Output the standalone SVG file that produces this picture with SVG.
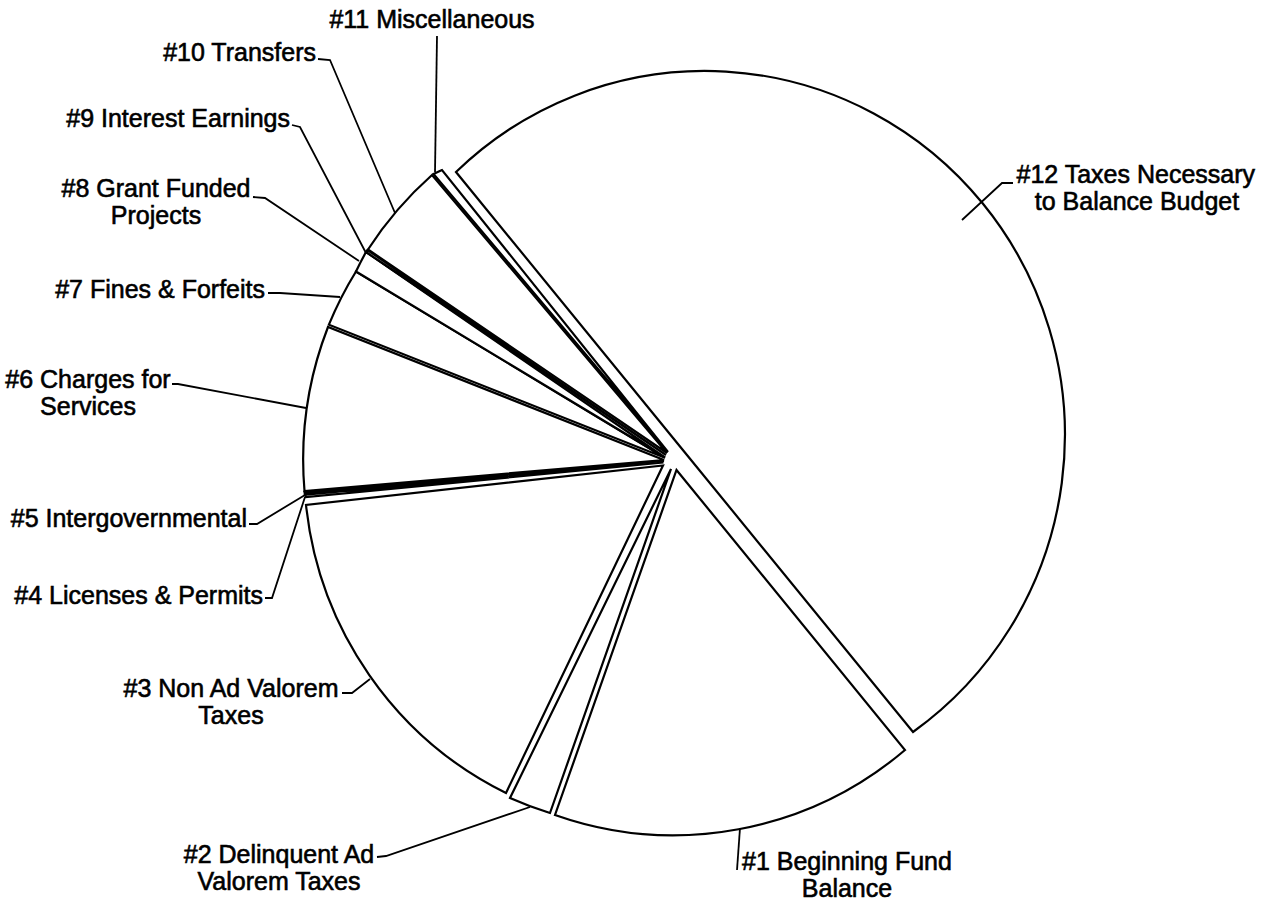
<svg xmlns="http://www.w3.org/2000/svg" width="1265" height="903" viewBox="0 0 1265 903">
<style>
.s{fill:#fff;stroke:#000;stroke-width:2.2;stroke-linejoin:miter}
.l{fill:none;stroke:#000;stroke-width:1.8}
text{font-family:"Liberation Sans",Arial,sans-serif;font-size:25px;fill:#000;stroke:#000;stroke-width:0.6}
.e{text-anchor:end}
.m{text-anchor:middle}
</style>
<rect width="1265" height="903" fill="#fff"/>
<g id="slice12"><path class="s" d="M684.5,452 L456,172 A360 364 0 1 1 913,732 Z"/></g>
<g id="slice1"><path class="s" d="M676.5,470 L905,750 A360 364 0 0 1 555,815 Z"/></g>
<g id="slice2"><path class="s" d="M671,469 L550,813 A360 364 0 0 1 510,798 Z"/></g>
<g id="slice3"><path class="s" d="M663,465.5 L506,793 A360 364 0 0 1 306,505 Z"/></g>
<g id="slice4"><path class="s" d="M663.5,462.5 L306,497 A360 364 0 0 1 305,494.6 Z"/></g>
<g id="slice5"><path class="s" d="M664,461 L305,494 A360 364 0 0 1 304.5,491.8 Z"/></g>
<g id="slice6"><path class="s" d="M664,460 L304.5,491 A360 364 0 0 1 328,327 Z"/></g>
<g id="slice7"><path class="s" d="M665,457.7 L328.9,324.7 A360 364 0 0 1 356,271.5 Z"/></g>
<g id="slice8"><path class="s" d="M665,457.5 L356,271.5 A360 364 0 0 1 366,252 Z"/></g>
<g id="slice9"><path class="s" d="M666,455 L366,252 A360 364 0 0 1 367.5,250 Z"/></g>
<g id="slice10"><path class="s" d="M667,453 L368,249.5 A360 364 0 0 1 432,175 Z"/></g>
<g id="slice11"><path class="s" d="M668,452 L433.5,174 A360 364 0 0 1 442,170 Z"/></g>
<g id="connectors">
<path class="l" d="M437,36 L435,172"/>
<path class="l" d="M318,59 L330,60 L395,213"/>
<path class="l" d="M292,125 L300,127 L366,253"/>
<path class="l" d="M253,197 L265,198 L359,261"/>
<path class="l" d="M268,293 L280,293 L340,297"/>
<path class="l" d="M172,384 L178,384 L306,408"/>
<path class="l" d="M249,524 L257,524 L305,495"/>
<path class="l" d="M265,598 L272,598 L305,497"/>
<path class="l" d="M342,693 L352,693 L370,679"/>
<path class="l" d="M377,857 L386,856 L530,807"/>
<path class="l" d="M740,828 L737,870"/>
<path class="l" d="M1013,183 L1002,183 L962,220"/>
</g>
<g id="label11"><text class="m" x="432" y="28">#11 Miscellaneous</text></g>
<g id="label10"><text class="e" x="316" y="61">#10 Transfers</text></g>
<g id="label9"><text class="e" x="290" y="127">#9 Interest Earnings</text></g>
<g id="label8"><text class="m" x="156" y="197">#8 Grant Funded</text><text class="m" x="156" y="224">Projects</text></g>
<g id="label7"><text class="e" x="265" y="298">#7 Fines &amp; Forfeits</text></g>
<g id="label6"><text class="m" x="88" y="388">#6 Charges for</text><text class="m" x="88" y="415">Services</text></g>
<g id="label5"><text class="e" x="247" y="527">#5 Intergovernmental</text></g>
<g id="label4"><text class="e" x="263" y="604">#4 Licenses &amp; Permits</text></g>
<g id="label3"><text class="m" x="231" y="697">#3 Non Ad Valorem</text><text class="m" x="231" y="724">Taxes</text></g>
<g id="label2"><text class="m" x="279" y="863">#2 Delinquent Ad</text><text class="m" x="279" y="890">Valorem Taxes</text></g>
<g id="label1"><text x="742" y="870">#1 Beginning Fund</text><text class="m" x="847" y="897">Balance</text></g>
<g id="label12"><text x="1016.5" y="183">#12 Taxes Necessary</text><text class="m" x="1137" y="210">to Balance Budget</text></g>
</svg>
